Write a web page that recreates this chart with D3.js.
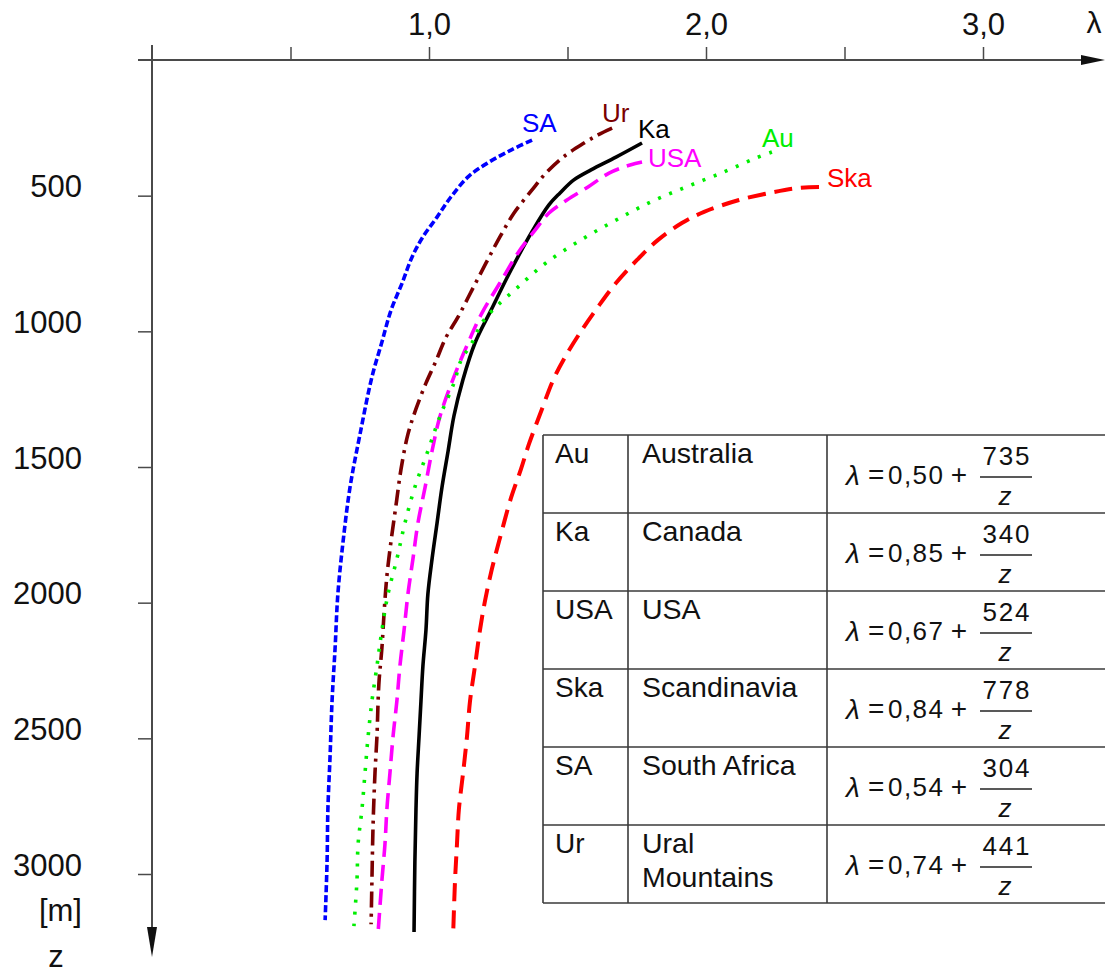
<!DOCTYPE html>
<html>
<head>
<meta charset="utf-8">
<script src="https://cdn.jsdelivr.net/npm/d3@7"></script>
<style>
  html, body { margin: 0; padding: 0; background: #fff; }
  svg { display: block; }
  text { font-family: Arial, "Liberation Sans", sans-serif; }
</style>
</head>
<body>
<svg id="chart" width="1105" height="976"></svg>
<script>
// ---------- data ----------
// lambda values along each curve and the matching depth z [m]
const saLambda  = [1.372,1.296,1.217,1.144,1.079,1.029,0.978,0.939,0.903,0.863,0.829,0.794,0.751,0.715,0.690,0.671,0.661,0.650,0.643,0.635,0.632,0.625];
const saDepth   = [295,332,376,428,505,579,652,726,822,922,1043,1168,1379,1574,1773,1968,2167,2363,2562,2761,2956,3170];

const urLambda  = [1.661,1.610,1.560,1.484,1.422,1.372,1.307,1.256,1.206,1.155,1.105,1.062,1.022,0.989,0.953,0.924,0.899,0.881,0.863,0.848,0.838,0.830,0.819,0.812,0.805,0.798,0.794,0.791];
const urDepth   = [251,276,306,358,417,479,564,652,748,848,947,1021,1117,1191,1286,1379,1508,1640,1773,1902,2035,2167,2300,2495,2628,2823,3023,3185];

const kaLambda  = [1.769,1.675,1.585,1.523,1.473,1.433,1.375,1.296,1.224,1.166,1.122,1.090,1.069,1.047,1.029,1.011,0.996,0.989,0.978,0.971,0.964,0.957,0.953,0.949,0.946];
const kaDepth   = [306,358,405,442,490,534,627,774,922,1043,1180,1312,1441,1574,1707,1839,1968,2101,2234,2363,2495,2628,2761,2956,3214];

const usaLambda = [1.769,1.726,1.650,1.574,1.498,1.433,1.383,1.321,1.256,1.191,1.141,1.090,1.040,1.011,0.986,0.960,0.942,0.924,0.910,0.895,0.884,0.870,0.859,0.848,0.841,0.830,0.816];
const usaDepth  = [376,387,417,468,516,564,627,711,822,933,1043,1168,1312,1441,1574,1707,1839,1968,2101,2234,2363,2495,2628,2761,2890,3023,3218];

const auLambda  = [2.238,2.181,2.054,1.928,1.801,1.675,1.549,1.422,1.321,1.242,1.191,1.155,1.116,1.090,1.040,0.996,0.949,0.913,0.884,0.852,0.830,0.812,0.794,0.780,0.769,0.758,0.744,0.740,0.729];
const auDepth   = [339,361,417,468,523,590,663,748,837,910,969,1043,1106,1191,1312,1441,1574,1707,1839,1968,2101,2234,2363,2495,2628,2761,2890,3023,3192];

const skaLambda = [2.408,2.332,2.245,2.119,1.993,1.913,1.827,1.751,1.675,1.610,1.552,1.491,1.448,1.408,1.361,1.332,1.296,1.260,1.227,1.202,1.184,1.166,1.148,1.137,1.123,1.108,1.101,1.094,1.087];
const skaDepth  = [468,472,487,516,560,601,663,737,822,910,995,1095,1180,1286,1415,1508,1614,1747,1876,1994,2101,2234,2363,2495,2628,2761,2890,3023,3229];

const xTickValues = [0.5, 1.0, 1.5, 2.0, 2.5, 3.0];
const xTickLabels = ["", "1,0", "", "2,0", "", "3,0"];
const yTickValues = [500, 1000, 1500, 2000, 2500, 3000];

// table
const tableCodes     = ["Au", "Ka", "USA", "Ska", "SA", "Ur"];
const tableCountries = [["Australia"], ["Canada"], ["USA"], ["Scandinavia"], ["South Africa"], ["Ural", "Mountains"]];
const tableConstA    = ["0,50", "0,85", "0,67", "0,84", "0,54", "0,74"];
const tableConstB    = ["735", "340", "524", "778", "304", "441"];

// ---------- styling ----------
const series = [
  { name: "SA",  lam: saLambda,  z: saDepth,  color: "#0000ff", dash: "7,3",      width: 3.6, lx: -10, ly: -8 },
  { name: "Ur",  lam: urLambda,  z: urDepth,  color: "#7a0000", dash: "16,6,3,6", width: 3.6, lx: -10, ly: -6 },
  { name: "Ka",  lam: kaLambda,  z: kaDepth,  color: "#000000", dash: null,       width: 3.6, lx: -4,  ly: -5 },
  { name: "USA", lam: usaLambda, z: usaDepth, color: "#ff00ff", dash: "16,8",     width: 3.6, lx: 6,   ly: 5  },
  { name: "Au",  lam: auLambda,  z: auDepth,  color: "#00ee00", dash: "3,9",      width: 3.6, lx: -10, ly: -5 },
  { name: "Ska", lam: skaLambda, z: skaDepth, color: "#ff0000", dash: "18,9",     width: 4,   lx: 8,   ly: 0  }
];

const svg = d3.select("#chart");
svg.append("rect").attr("width", 1105).attr("height", 976).attr("fill", "#fff");

const x = d3.scaleLinear().domain([0, 3]).range([152, 983]);
const y = d3.scaleLinear().domain([0, 3000]).range([60, 874]);

const axisColor = "#4a4a4a";

// x axis (top)
const xAxis = d3.axisTop(x)
  .tickValues(xTickValues)
  .tickSizeInner(13).tickSizeOuter(0).tickPadding(12)
  .tickFormat((d, i) => xTickLabels[i]);
const gx = svg.append("g").attr("transform", "translate(0,60)").call(xAxis);
gx.select(".domain").remove();
gx.selectAll(".tick line").attr("stroke", axisColor).attr("stroke-width", 1.5);
gx.selectAll(".tick text").attr("font-size", 31).attr("fill", "#111")
  .attr("font-family", "Arial, 'Liberation Sans', sans-serif");

// y axis (left)
const yAxis = d3.axisLeft(y)
  .tickValues(yTickValues)
  .tickSizeInner(14).tickSizeOuter(0).tickPadding(56)
  .tickFormat(d3.format("d"));
const gy = svg.append("g").attr("transform", "translate(152,0)").call(yAxis);
gy.select(".domain").remove();
gy.selectAll(".tick line").attr("stroke", axisColor).attr("stroke-width", 1.5);
gy.selectAll(".tick text").attr("font-size", 31).attr("fill", "#111").attr("dy", "0.04em")
  .attr("font-family", "Arial, 'Liberation Sans', sans-serif");

// axis lines with arrows
svg.append("line").attr("x1", 138).attr("x2", 1086).attr("y1", 60).attr("y2", 60)
  .attr("stroke", axisColor).attr("stroke-width", 2);
svg.append("path").attr("d", "M1081,55 L1105,60 L1081,65 Z").attr("fill", "#111");
svg.append("line").attr("x1", 152).attr("x2", 152).attr("y1", 45).attr("y2", 930)
  .attr("stroke", axisColor).attr("stroke-width", 2);
svg.append("path").attr("d", "M147,927 L152,957 L157,927 Z").attr("fill", "#111");

svg.append("text").attr("x", 1094).attr("y", 33).attr("text-anchor", "middle")
  .attr("font-size", 30).attr("font-family", "'Liberation Serif', 'DejaVu Serif', serif").attr("fill", "#111").text("λ");
svg.append("text").attr("x", 82).attr("y", 921).attr("text-anchor", "end")
  .attr("font-size", 31).attr("fill", "#111").text("[m]");
svg.append("text").attr("x", 56).attr("y", 967).attr("text-anchor", "middle")
  .attr("font-size", 31).attr("fill", "#111").text("z");

// table
const tblLeft = 543, colA = 628, colB = 827, tblRight = 1120, tblTop = 435, rowH = 78;
const tg = svg.append("g");
const tableColor = "#3a3a3a";
d3.range(tableCodes.length + 1).forEach(i => {
  tg.append("line").attr("x1", tblLeft).attr("x2", tblRight)
    .attr("y1", tblTop + i * rowH).attr("y2", tblTop + i * rowH)
    .attr("stroke", tableColor).attr("stroke-width", 1.6);
});
[tblLeft, colA, colB].forEach(cx => {
  tg.append("line").attr("x1", cx).attr("x2", cx)
    .attr("y1", tblTop).attr("y2", tblTop + tableCodes.length * rowH)
    .attr("stroke", tableColor).attr("stroke-width", 1.6);
});
tableCodes.forEach((code, i) => {
  const top = tblTop + i * rowH;
  tg.append("text").attr("x", 555).attr("y", top + 28).attr("font-size", 28).attr("fill", "#111").text(code);
  tableCountries[i].forEach((ln, j) => {
    tg.append("text").attr("x", 642).attr("y", top + 28 + j * 34).attr("font-size", 28.5).attr("fill", "#111").text(ln);
  });
  // formula
  tg.append("text").attr("x", 846).attr("y", top + 50).attr("font-size", 28)
    .attr("font-style", "italic").attr("font-family", "'Liberation Serif', 'DejaVu Serif', serif")
    .attr("fill", "#111").text("λ");
  tg.append("text").attr("x", 868).attr("y", top + 49).attr("font-size", 28)
    .attr("font-family", "'Liberation Serif', serif").attr("fill", "#111").text("=");
  tg.append("text").attr("x", 888).attr("y", top + 49).attr("font-size", 26)
    .attr("textLength", 55).attr("fill", "#111").text(tableConstA[i]);
  tg.append("text").attr("x", 959).attr("y", top + 49).attr("font-size", 28).attr("text-anchor", "middle")
    .attr("font-family", "'Liberation Serif', serif").attr("fill", "#111").text("+");
  tg.append("text").attr("x", 1006).attr("y", top + 30).attr("font-size", 26).attr("text-anchor", "middle")
    .attr("textLength", 47).attr("fill", "#111").text(tableConstB[i]);
  tg.append("line").attr("x1", 980).attr("x2", 1032).attr("y1", top + 42).attr("y2", top + 42)
    .attr("stroke", "#222").attr("stroke-width", 1.4);
  tg.append("text").attr("x", 1005).attr("y", top + 70).attr("font-size", 26).attr("text-anchor", "middle")
    .attr("font-style", "italic").attr("fill", "#111").text("z");
});

// curves
const line = d3.line().x(d => x(d[0])).y(d => y(d[1])).curve(d3.curveCatmullRom.alpha(0.5));
series.forEach(s => {
  const pts = s.lam.map((l, i) => [l, s.z[i]]);
  svg.append("path").datum(pts)
    .attr("d", line)
    .attr("fill", "none")
    .attr("stroke", s.color)
    .attr("stroke-width", s.width)
    .attr("stroke-dasharray", s.dash)
    .attr("stroke-linejoin", "round");
  svg.append("text")
    .attr("x", x(pts[0][0]) + s.lx)
    .attr("y", y(pts[0][1]) + s.ly)
    .attr("font-size", 26)
    .attr("fill", s.color)
    .text(s.name);
});
</script>
</body>
</html>
